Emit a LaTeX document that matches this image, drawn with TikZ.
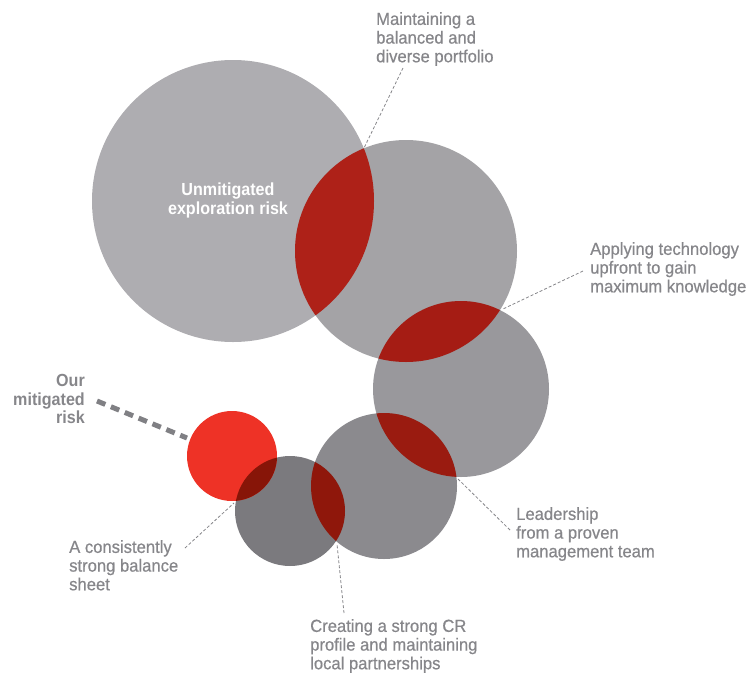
\documentclass[tikz,border=0pt]{standalone}
\usepackage{fontspec}
\setmainfont{Liberation Sans}[FakeStretch=0.95, FakeBold=0.6, BoldFeatures={FakeStretch=0.92, FakeBold=0}]
\usepackage{tikz}
\usetikzlibrary{positioning}
\definecolor{labelgray}{RGB}{134,134,138}
\definecolor{gapgray}{RGB}{128,128,132}
\definecolor{greyA}{RGB}{174,173,177}
\definecolor{greyB}{RGB}{164,163,166}
\definecolor{greyC}{RGB}{153,152,156}
\definecolor{greyD}{RGB}{139,138,142}
\definecolor{greyE}{RGB}{123,122,126}
\definecolor{riskred}{RGB}{238,50,38}
\definecolor{redAB}{RGB}{174,33,24}
\definecolor{redBC}{RGB}{165,28,20}
\definecolor{redCD}{RGB}{154,27,16}
\definecolor{redDE}{RGB}{143,23,11}
\definecolor{redRE}{RGB}{135,21,8}

\tikzset{
  tag/.style={text=labelgray, font=\fontsize{17.5}{18.7}\selectfont,
    align=left, inner sep=0pt, anchor=north west},
  leader/.style={labelgray, line width=0.8pt, dash pattern=on 3pt off 2pt},
}

\begin{document}
\begin{tikzpicture}[x=1pt, y=-1pt]
\useasboundingbox (0,0) rectangle (749,675);

% circle centres
\coordinate (cA) at (233,201);
\coordinate (cB) at (406,251);
\coordinate (cC) at (461,389);
\coordinate (cD) at (384,486);
\coordinate (cE) at (290,511);
\coordinate (cR) at (232,456);

\fill[greyA] (cA) circle[radius=141pt];
\fill[greyB] (cB) circle[radius=111pt];
\fill[greyC] (cC) circle[radius=88pt];
\fill[greyD] (cD) circle[radius=73pt];
\fill[greyE] (cE) circle[radius=55pt];
\fill[riskred] (cR) circle[radius=45pt];

% overlaps
\begin{scope}
  \clip (cA) circle[radius=141pt];
  \fill[redAB] (cB) circle[radius=111pt];
\end{scope}
\begin{scope}
  \clip (cB) circle[radius=111pt];
  \fill[redBC] (cC) circle[radius=88pt];
\end{scope}
\begin{scope}
  \clip (cC) circle[radius=88pt];
  \fill[redCD] (cD) circle[radius=73pt];
\end{scope}
\begin{scope}
  \clip (cD) circle[radius=73pt];
  \fill[redDE] (cE) circle[radius=55pt];
\end{scope}
\begin{scope}
  \clip (cE) circle[radius=55pt];
  \fill[redRE] (cR) circle[radius=45pt];
\end{scope}

% labels
\node[tag, anchor=north, align=center, text=white, font=\bfseries\fontsize{17.5}{18.7}\selectfont]
  (unmitigated) at (228,183) {Unmitigated\\exploration risk};
\node[tag, anchor=north east, align=right, font=\bfseries\fontsize{17.5}{18.7}\selectfont]
  (mitigated) at (85,374) {Our\\mitigated\\risk};
\node[tag] (portfolio) at (376,12) {Maintaining a\\balanced and\\diverse portfolio};
\node[tag] (technology) at (590,242) {Applying technology\\upfront to gain\\maximum knowledge};
\node[tag] (leadership) at (516,507) {Leadership\\from a proven\\management team};
\node[tag] (partnerships) at (310,619) {Creating a strong CR\\profile and maintaining\\local partnerships};
\node[tag] (balance) at (69,540) {A consistently\\strong balance\\sheet};

% leader ends
\coordinate (pfFrom) at (403,68);   \coordinate (pfTo) at (364,148);
\coordinate (tcFrom) at (583,271);  \coordinate (tcTo) at (503,309);
\coordinate (ldFrom) at (510,530);  \coordinate (ldTo) at (458,479);
\coordinate (ptFrom) at (344,613);  \coordinate (ptTo) at (337,544);
\coordinate (blFrom) at (185,548);  \coordinate (blTo) at (234,503);
\coordinate (mgFrom) at (97,401);   \coordinate (mgTo) at (187,438);

\draw[leader] (pfFrom) -- (pfTo);
\draw[leader] (tcFrom) -- (tcTo);
\draw[leader] (ldFrom) -- (ldTo);
\draw[leader] (ptFrom) -- (ptTo);
\draw[leader] (blFrom) -- (blTo);
\draw[gapgray, line width=5pt, dash pattern=on 9pt off 6pt] (mgFrom) -- (mgTo);
\end{tikzpicture}
\end{document}
